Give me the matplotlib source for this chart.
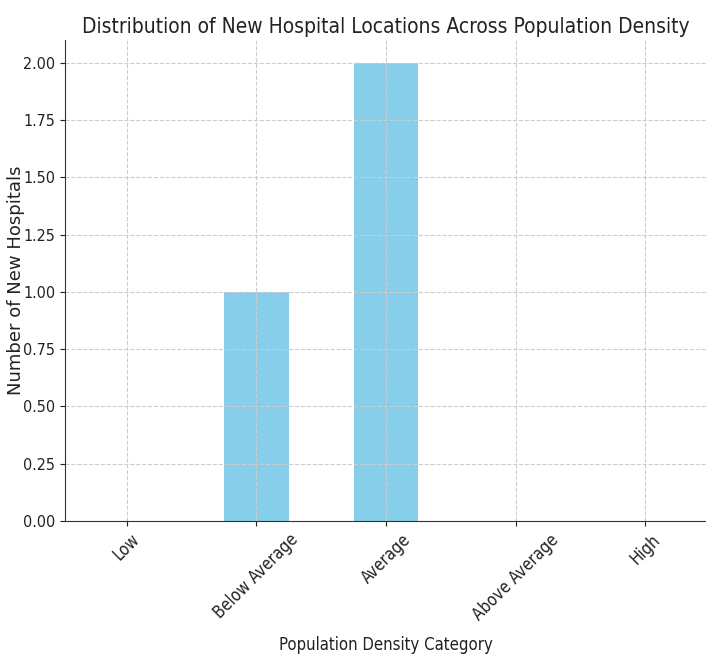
import matplotlib
matplotlib.use("Agg")
import matplotlib.pyplot as plt

categories = ["Low", "Below Average", "Average", "Above Average", "High"]
counts = [0, 1, 2, 0, 0]

plt.rcParams["font.family"] = "DejaVu Sans"
plt.rcParams["text.color"] = "#222222"
plt.rcParams["axes.labelcolor"] = "#222222"
plt.rcParams["xtick.color"] = "#222222"
plt.rcParams["ytick.color"] = "#222222"

fig = plt.figure(figsize=(7.06, 6.55), dpi=100)
ax = fig.add_axes([65 / 706, 134 / 655, 642 / 706, 481 / 655])
ax.bar(range(len(categories)), counts, width=0.5, color="skyblue")
ax.set_xticks(range(len(categories)))
ax.set_xticklabels(categories, rotation=45)
ax.tick_params(axis="both", labelsize=12)
for lab in ax.get_xticklabels():
    lab.set_fontstretch("condensed")
for lab in ax.get_yticklabels():
    lab.set_fontstretch("condensed")
    lab.set_fontsize(11.5)
ax.grid(True, linestyle="--", color="#cccccc", linewidth=0.8)
ax.spines["top"].set_visible(False)
ax.spines["right"].set_visible(False)
ax.spines["left"].set_color("#333333")
ax.spines["bottom"].set_color("#333333")
ax.set_title("Distribution of New Hospital Locations Across Population Density",
             fontsize=15, fontstretch="condensed", pad=5)
ax.set_xlabel("Population Density Category", fontsize=12, fontstretch="condensed",
              labelpad=9)
ax.set_ylabel("Number of New Hospitals", fontsize=13)
ax.yaxis.set_label_coords(-0.0623, 0.5)
fig.savefig("out.png", dpi=100)
